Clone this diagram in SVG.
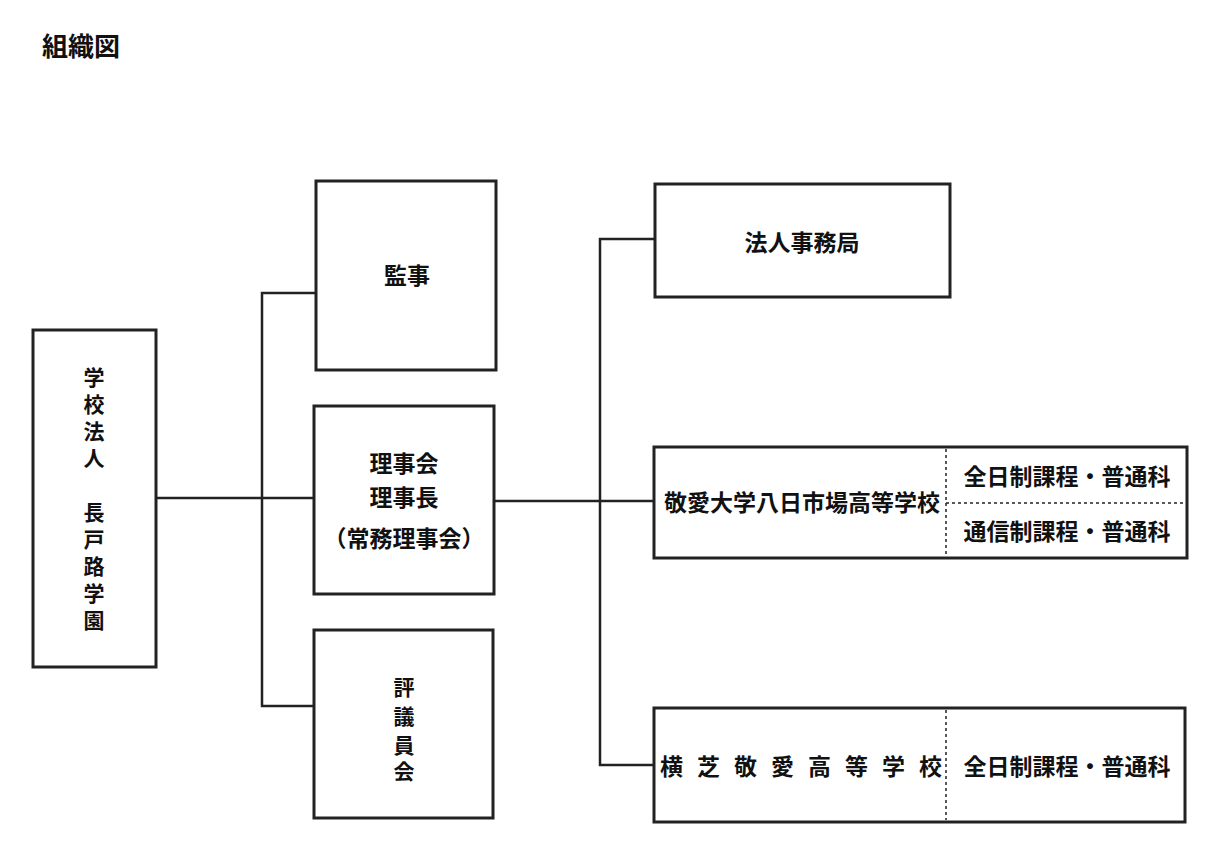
<svg xmlns="http://www.w3.org/2000/svg" width="1231" height="866" viewBox="0 0 1231 866">
<style>
.b{fill:#fff;stroke:#222;stroke-width:3}
.l{fill:none;stroke:#222;stroke-width:2.5}
.d{fill:none;stroke:#222;stroke-width:1.5;stroke-dasharray:3 3}
text{font-family:"Noto Sans CJK JP",sans-serif;font-size:23px;fill:#111;text-anchor:middle;font-weight:700}
.v{font-size:21px}
</style>
<rect width="1231" height="866" fill="#fff"/>
<text x="42" y="56" style="text-anchor:start;font-size:26px">組織図</text>
<g id="connectors">
<polyline class="l" points="156,498 314,498"/>
<polyline class="l" points="316,293 262,293 262,706 314,706"/>
<polyline class="l" points="494,501 654,501"/>
<polyline class="l" points="655,239 600,239 600,765 654,765"/>
</g>
<g id="n1"><rect class="b" x="33" y="330" width="123" height="337"/>
<text class="v" x="94"><tspan x="94" y="385">学</tspan><tspan x="94" y="412">校</tspan><tspan x="94" y="439">法</tspan><tspan x="94" y="466">人</tspan><tspan x="94" y="520">長</tspan><tspan x="94" y="547">戸</tspan><tspan x="94" y="574">路</tspan><tspan x="94" y="601">学</tspan><tspan x="94" y="628">園</tspan></text></g>
<g id="n2"><rect class="b" x="316" y="181" width="180" height="189"/><text x="407" y="284">監事</text></g>
<g id="n3"><rect class="b" x="314" y="406" width="180" height="188"/>
<text x="404" y="472">理事会</text><text x="404" y="506">理事長</text><text x="404" y="547">（常務理事会）</text></g>
<g id="n4"><rect class="b" x="314" y="630" width="179" height="188"/>
<text class="v" x="404"><tspan x="404" y="695">評</tspan><tspan x="404" y="724">議</tspan><tspan x="404" y="753">員</tspan><tspan x="404" y="779">会</tspan></text></g>
<g id="n5"><rect class="b" x="655" y="184" width="295" height="113"/><text x="802" y="251">法人事務局</text></g>
<g id="n6"><rect class="b" x="654" y="447" width="533" height="111"/>
<line class="d" x1="946" y1="449" x2="946" y2="556"/><line class="d" x1="946" y1="503" x2="1185" y2="503"/>
<text x="802" y="511">敬愛大学八日市場高等学校</text>
<text x="1067" y="485">全日制課程・普通科</text><text x="1067" y="540">通信制課程・普通科</text></g>
<g id="n7"><rect class="b" x="654" y="708" width="531" height="114"/>
<line class="d" x1="946" y1="710" x2="946" y2="820"/>
<text x="660" y="775" style="text-anchor:start;letter-spacing:14px">横芝敬愛高等学校</text>
<text x="1067" y="775">全日制課程・普通科</text></g>
</svg>
